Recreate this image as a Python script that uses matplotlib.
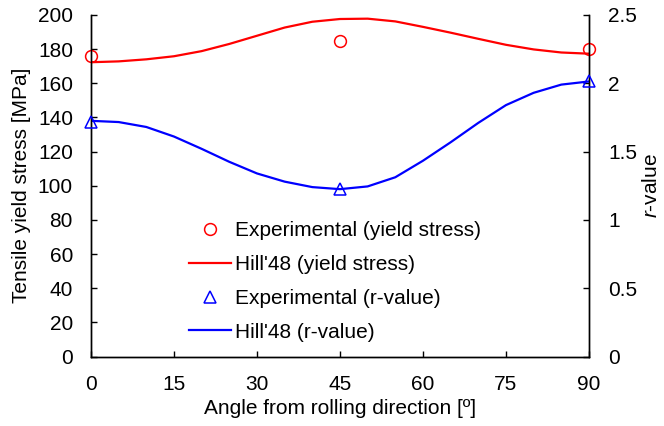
import matplotlib
matplotlib.use("Agg")
import matplotlib.pyplot as plt

plt.rcParams["font.family"] = ["Liberation Sans", "DejaVu Sans"]
plt.rcParams["mathtext.fontset"] = "custom"
plt.rcParams["mathtext.it"] = "Liberation Sans:italic"
plt.rcParams["mathtext.rm"] = "Liberation Sans"

# measured points
exp_angle = [0, 45, 90]
exp_stress = [175.8, 185.0, 180.1]
exp_r = [1.72, 1.225, 2.015]

# Hill'48 predictions, every 5 degrees
hill_angle = [0, 5, 10, 15, 20, 25, 30, 35, 40, 45,
              50, 55, 60, 65, 70, 75, 80, 85, 90]
hill_stress = [172.3, 172.8, 174.0, 175.8, 178.8, 183.0, 187.8, 192.6, 196.0, 197.6,
               197.8, 196.2, 193.0, 189.6, 186.0, 182.5, 179.8, 178.0, 177.3]
hill_r = [1.725, 1.716, 1.68, 1.61, 1.52, 1.425, 1.34, 1.28, 1.24, 1.225,
          1.245, 1.312, 1.433, 1.568, 1.71, 1.84, 1.93, 1.99, 2.013]

fs = 15
fig = plt.figure(figsize=(6.64, 4.26), dpi=100)
ax = fig.add_axes([0.137, 0.163, 0.750, 0.802])
ax2 = ax.twinx()

h1, = ax.plot(exp_angle, exp_stress, "o", ms=8.5, mfc="none", mec="red", mew=1.1,
              clip_on=False, zorder=5, label="Experimental (yield stress)")
h2, = ax.plot(hill_angle, hill_stress, "-", color="red", lw=1.6,
              label="Hill'48 (yield stress)")
h3, = ax2.plot(exp_angle, exp_r, "^", ms=8.5, mfc="none", mec="blue", mew=1.1,
               clip_on=False, zorder=5, label="Experimental (r-value)")
h4, = ax2.plot(hill_angle, hill_r, "-", color="blue", lw=1.6,
               label="Hill'48 (r-value)")

ax.set_xlim(0, 90)
ax.set_ylim(0, 200)
ax2.set_ylim(0, 2.5)
ax.set_xticks(range(0, 91, 15))
ax.set_yticks(range(0, 201, 20))
ax2.set_yticks([0, 0.5, 1, 1.5, 2, 2.5])
ax2.set_yticklabels(["0", "0.5", "1", "1.5", "2", "2.5"])

for a in (ax, ax2):
    a.tick_params(direction="in", length=4, width=1, labelsize=fs)
    for s in a.spines.values():
        s.set_linewidth(1)
    a.spines["top"].set_visible(False)
ax.tick_params(axis="x", pad=13)
ax.tick_params(axis="y", pad=13)
ax2.tick_params(axis="y", pad=14)

ax.set_xlabel("Angle from rolling direction [º]", fontsize=fs)
ax.set_ylabel("Tensile yield stress [MPa]", fontsize=fs)
ax2.set_ylabel("$r$-value", fontsize=fs)
ax.xaxis.set_label_coords(0.5, -0.124)
ax.yaxis.set_label_coords(-0.120, 0.5)
ax2.yaxis.set_label_coords(1.106, 0.5)

ax2.legend(handles=[h1, h2, h3, h4], loc="upper left",
           bbox_to_anchor=(179 / 664, 1 - 211 / 426), bbox_transform=fig.transFigure,
           frameon=False, fontsize=fs, borderpad=0, handlelength=2.0,
           handletextpad=0.2, labelspacing=0.71)

fig.savefig("out.png", dpi=100)
